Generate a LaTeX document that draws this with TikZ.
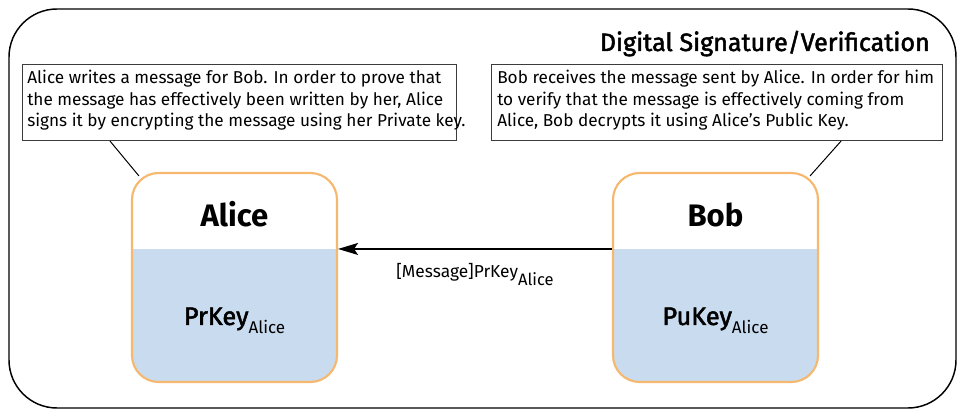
\documentclass[tikz,border=0pt]{standalone}
\usepackage{fontspec}
\setmainfont{Fira Sans}
\newfontfamily\semibold{Fira Sans}[FakeBold=2]
\usetikzlibrary{arrows.meta}

\definecolor{boxedge}{RGB}{245,184,110}
\definecolor{keyblue}{RGB}{201,219,239}
\definecolor{noteedge}{RGB}{60,60,60}

% lowered subscript: #1 drop, #2 font size, #3 text
\newcommand\lowsub[3]{\raisebox{-#1}{\fontsize{#2}{#2}\selectfont #3}}

\tikzset{
  frame/.style={draw=black, line width=1.1pt, rounded corners=36pt},
  notebox/.style={draw=noteedge, line width=0.8pt, inner sep=0pt, anchor=north west},
  notetext/.style={inner sep=0pt, anchor=north west, align=left,
    font=\fontsize{12.9pt}{16pt}\selectfont},
  actorbox/.style={draw=boxedge, line width=1.6pt, rounded corners=20pt,
    minimum width=153.75pt, minimum height=156.75pt, inner sep=0pt,
    path picture={\fill[keyblue, sharp corners] (path picture bounding box.south west)
      rectangle ([yshift=99.75pt]path picture bounding box.south east);}},
  actorname/.style={anchor=base, inner sep=0pt, font=\fontsize{23.3pt}{23.3pt}\selectfont\bfseries},
  keyname/.style={anchor=base, inner sep=0pt, font=\semibold\fontsize{19pt}{19pt}\selectfont},
  leader/.style={draw=black, line width=0.75pt},
  msgarrow/.style={draw=black, line width=0.9pt, -{Stealth[length=15pt,width=9pt,inset=3pt]}}
}

\begin{document}
\begin{tikzpicture}[x=0.75pt,y=-0.75pt]
\useasboundingbox (0,0) rectangle (961,409);

% outer frame and title
\draw[frame] (9,9) rectangle (956,408);
\node[anchor=base east, inner sep=0pt, font=\semibold\fontsize{18.8pt}{18.8pt}\selectfont]
  (title) at (930,51) {Digital Signature/Verification};

% explanatory notes
\node[notebox, minimum width=325.5pt, minimum height=57pt] (noteA) at (22,64) {};
\node[notetext] (noteAtext) at (27,70) {Alice writes a message for Bob. In order to prove that\\
the message has effectively been written by her, Alice\\
signs it by encrypting the message using her Private key.};

\node[notebox, minimum width=338.25pt, minimum height=57pt] (noteB) at (491,64) {};
\node[notetext] (noteBtext) at (497,70) {Bob receives the message sent by Alice. In order for him\\
to verify that the message is effectively coming from\\
Alice, Bob decrypts it using Alice’s Public Key.};

% actors
\node[actorbox] (alice) at (234.5,277.5) {};
\node[actorbox] (bob) at (715.5,277.5) {};

\node[actorname] (alicename) at ([yshift=38.6pt]alice.center) {Alice};
\node[keyname] (alicekey) at ([yshift=-35.6pt]alice.center) {PrKey\lowsub{6.2pt}{12.75pt}{\normalfont Alice}};
\node[actorname] (bobname) at ([yshift=38.6pt]bob.center) {Bob};
\node[keyname] (bobkey) at ([yshift=-35.6pt]bob.center) {PuKey\lowsub{6.2pt}{12.75pt}{\normalfont Alice}};

% leaders from notes to actors
\draw[leader] ([xshift=66pt]noteA.south west) -- ([shift={(8,4)}]alice.north west);
\draw[leader] ([xshift=-76.5pt]noteB.south east) -- ([shift={(-9,4)}]bob.north east);

% signed message
\draw[msgarrow] ([yshift=21.4pt]bob.west) -- ([yshift=21.4pt]alice.east)
  node[midway, anchor=base, yshift=-21.75pt, inner sep=0pt,
       font=\fontsize{13pt}{13pt}\selectfont] (msg)
  {[Message]PrKey\lowsub{5.8pt}{12.4pt}{Alice}};
\end{tikzpicture}
\end{document}
